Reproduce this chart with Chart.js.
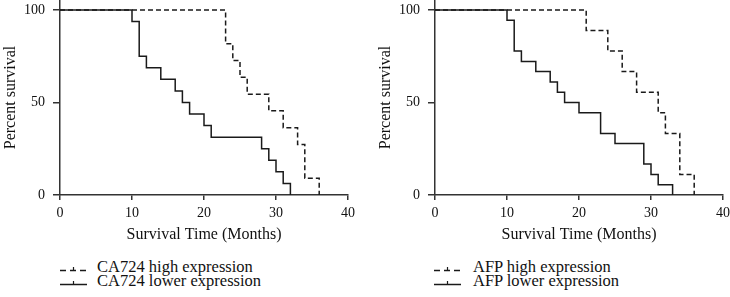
<!DOCTYPE html>
<html>
<head>
<meta charset="utf-8">
<script src="https://cdn.jsdelivr.net/npm/chart.js@4/dist/chart.umd.min.js"></script>
<style>
  html, body { margin: 0; padding: 0; background: #fff; }
  body { width: 730px; height: 297px; position: relative; overflow: hidden; font-family: "Liberation Serif", serif; }
  canvas { position: absolute; top: 0; }
  .leg { position: absolute; font-size: 16.5px; color: #111; white-space: nowrap; line-height: 16px; }
  .leg svg { position: absolute; }
</style>
</head>
<body>
<canvas id="c1" width="365" height="250" style="left:0"></canvas>
<canvas id="c2" width="365" height="250" style="left:365px"></canvas>
<div id="legends"></div>
<script>
// ---- Data ----
const xTicks = [0, 10, 20, 30, 40];
const yTicks = [0, 50, 100];
const xTitle = "Survival Time (Months)";
const yTitle = "Percent survival";

const ca724HighTimes = [0, 23, 24, 25, 26, 29, 31, 33, 34, 36];
const ca724HighSurv  = [100, 81.8, 72.7, 63.6, 54.5, 45.5, 36.4, 27.3, 9.1, 0];
const ca724LowTimes  = [0, 10, 11, 12, 14, 16, 17, 18, 20, 21, 28, 29, 30, 31, 32];
const ca724LowSurv   = [100, 93.75, 75, 68.75, 62.5, 56.25, 50, 43.75, 37.5, 31.25, 25, 18.75, 12.5, 6.25, 0];

const afpHighTimes = [0, 21, 24, 26, 28, 31, 32, 34, 36];
const afpHighSurv  = [100, 88.9, 77.8, 66.7, 55.6, 44.4, 33.3, 11.1, 0];
const afpLowTimes  = [0, 10, 11, 12, 14, 16, 17, 18, 20, 23, 25, 29, 30, 31, 33];
const afpLowSurv   = [100, 94.4, 77.8, 72.2, 66.7, 61.1, 55.6, 50, 44.4, 33.3, 27.8, 16.7, 11.1, 5.6, 0];

const leftLabels  = ["CA724 high expression", "CA724 lower expression"];
const rightLabels = ["AFP high expression", "AFP lower expression"];

// ---- Chart ----
Chart.defaults.font.family = '"Liberation Serif", serif';
Chart.defaults.color = '#111';
const AX = '#333';
const LN = '#1a1a1a';

function pts(t, s) { return t.map((x, i) => ({ x: x, y: s[i] })); }

function makeChart(id, high, low, yAxisW, padRight, titlePad) {
  return new Chart(document.getElementById(id), {
    type: 'line',
    data: {
      datasets: [
        { data: pts(high[0], high[1]), stepped: true, borderColor: LN, borderWidth: 1.5,
          borderDash: [5, 3], pointRadius: 0, fill: false, clip: false },
        { data: pts(low[0], low[1]), stepped: true, borderColor: LN, borderWidth: 1.5,
          pointRadius: 0, fill: false, clip: false }
      ]
    },
    options: {
      responsive: false,
      animation: false,
      events: [],
      layout: { padding: { left: 0, right: padRight, top: 0, bottom: 0 } },
      plugins: { legend: { display: false }, tooltip: { enabled: false } },
      scales: {
        x: {
          type: 'linear', min: 0, max: 40,
          afterBuildTicks: s => { s.ticks = xTicks.map(v => ({ value: v })); },
          afterFit: s => { s.height = 55; s.paddingLeft = 0; s.paddingRight = 0; },
          grid: { drawOnChartArea: false, drawTicks: true, tickLength: 5, color: AX, lineWidth: 1.5 },
          border: { display: true, color: AX, width: 1.5 },
          ticks: { font: { size: 14 }, color: '#111', padding: 5, maxRotation: 0 },
          title: { display: true, text: xTitle, font: { size: 16 }, color: '#111', padding: { top: 0, bottom: 6 } }
        },
        y: {
          type: 'linear', min: 0, max: 105.4,
          afterBuildTicks: s => { s.ticks = yTicks.map(v => ({ value: v })); },
          afterFit: s => { s.width = yAxisW; s.paddingTop = 0; s.paddingBottom = 0; },
          grid: { drawOnChartArea: false, drawTicks: true, tickLength: 7, color: AX, lineWidth: 1.5 },
          border: { display: true, color: AX, width: 1.5 },
          ticks: { font: { size: 14 }, color: '#111', padding: 8 },
          title: { display: true, text: yTitle, font: { size: 16 }, color: '#111', padding: { top: titlePad, bottom: 0 } }
        }
      }
    }
  });
}

makeChart('c1', [ca724HighTimes, ca724HighSurv], [ca724LowTimes, ca724LowSurv], 60, 17, 1);
makeChart('c2', [afpHighTimes, afpHighSurv], [afpLowTimes, afpLowSurv], 70, 7, 11);

// ---- Legends (HTML) ----
function legendRow(x0, textX, y, label, dashed) {
  const d = document.createElement('div');
  d.className = 'leg';
  d.style.left = x0 + 'px';
  d.style.top = (y - 8) + 'px';
  const w = 27;
  d.innerHTML =
    '<svg width="' + w + '" height="16" style="left:0;top:0">' +
    '<line x1="0" y1="11.5" x2="' + w + '" y2="11.5" stroke="' + LN + '" stroke-width="1.5"' +
    (dashed ? ' stroke-dasharray="6,4"' : '') + '/>' +
    '<line x1="' + (w / 2) + '" y1="8" x2="' + (w / 2) + '" y2="11.5" stroke="' + LN + '" stroke-width="1.2"/>' +
    '</svg><span style="position:absolute;left:' + (textX - x0) + 'px;top:0">' + label + '</span>';
  document.getElementById('legends').appendChild(d);
}
legendRow(60, 97, 267, leftLabels[0], true);
legendRow(60, 97, 281, leftLabels[1], false);
legendRow(434, 473, 267, rightLabels[0], true);
legendRow(434, 473, 281, rightLabels[1], false);
</script>
</body>
</html>
